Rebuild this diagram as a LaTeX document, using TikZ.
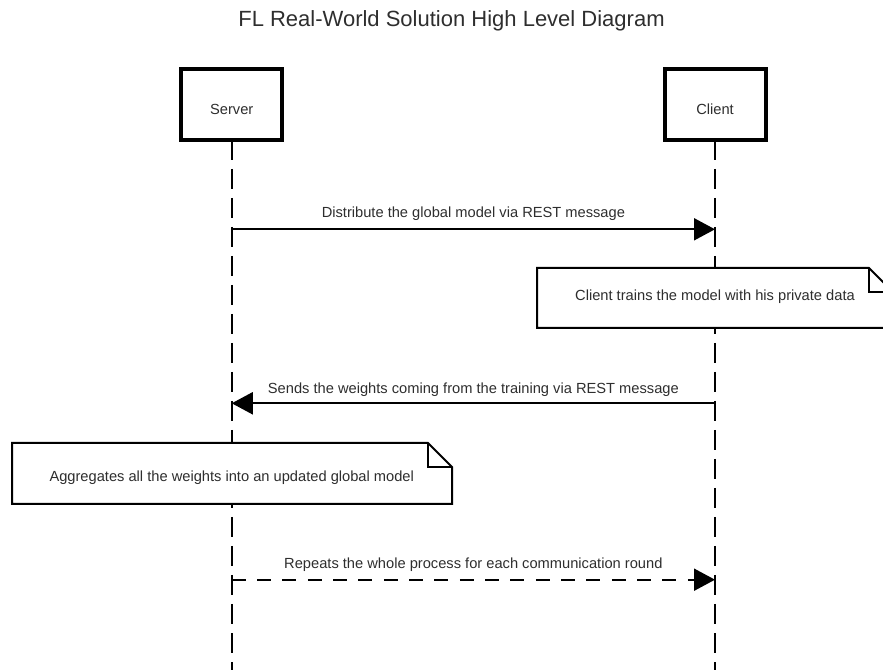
\documentclass[tikz,border=0pt]{standalone}
\usepackage{fontspec}
\setmainfont{Liberation Sans}
\usetikzlibrary{arrows.meta}
\begin{document}
\begin{tikzpicture}[x=0.75pt,y=-0.75pt,
  lbl/.style={font=\fontsize{11}{13}\selectfont, text=black!82, inner sep=0pt},
  ttl/.style={font=\fontsize{16.5}{19}\selectfont, text=black!82, inner sep=0pt},
  actor/.style={draw, line width=3pt, fill=white, minimum width=75.75pt, minimum height=53.25pt, inner sep=0pt},
  lifeline/.style={line width=1.5pt, dash pattern=on 15pt off 6.75pt, dash phase=1.5pt},
  msg/.style={line width=1.5pt, -{Triangle[length=15.75pt,width=16.5pt]}},
  replymsg/.style={msg, dash pattern=on 10.5pt off 8.5pt},
  note/.style={draw, line width=1.5pt, fill=white, line join=miter},
  fold/.style={line width=1.5pt, line join=miter}
]
\useasboundingbox (0,0) rectangle (883,670);
\clip (0,0) rectangle (883,670);

% title
\node[ttl, anchor=base] (title) at (451.5,27) {FL Real-World Solution High Level Diagram};

% participant heads
\node[actor] (server) at (231.75,104.5) {};
\node[actor] (client) at (715,104.5) {};

% lifelines
\coordinate (serverEnd) at (231.75,672);
\coordinate (clientEnd) at (715,672);
\draw[lifeline] (server.south) -- (serverEnd);
\draw[lifeline] (client.south) -- (clientEnd);

% redraw heads on top of the lifelines
\node[actor] at (server.center) {};
\node[actor] at (client.center) {};
\node[lbl, anchor=base] (serverText) at (231.75,115) {Server};
\node[lbl, anchor=base] (clientText) at (715,115) {Client};

% message 1: distribute model
\coordinate (s1) at (231.75,229.3);
\coordinate (c1) at (715,229.3);
\draw[msg] (s1) -- (c1)
  node[lbl, pos=0.5, anchor=base, yshift=8.6pt] (m1) {Distribute the global model via REST message};

% note on client
\path[note] (537,268) -- (869,268) -- (893,292) -- (893,328) -- (537,328) -- cycle;
\draw[fold] (869,268) -- (869,292) -- (893,292);
\node[lbl, anchor=base] (n1) at (715,301) {Client trains the model with his private data};

% message 2: weights back to server
\coordinate (s2) at (231.75,403.3);
\coordinate (c2) at (715,403.3);
\draw[msg] (c2) -- (s2)
  node[lbl, pos=0.5, anchor=base, yshift=7.2pt] (m2) {Sends the weights coming from the training via REST message};

% note on server
\path[note] (12,443) -- (428,443) -- (452,467) -- (452,504) -- (12,504) -- cycle;
\draw[fold] (428,443) -- (428,467) -- (452,467);
\node[lbl, anchor=base] (n2) at (231.75,481.5) {Aggregates all the weights into an updated global model};

% message 3: repeat
\coordinate (s3) at (231.75,579.7);
\coordinate (c3) at (715,579.7);
\draw[replymsg] (s3) -- (c3)
  node[lbl, pos=0.5, anchor=base, yshift=8.2pt] (m3) {Repeats the whole process for each communication round};
\end{tikzpicture}
\end{document}
